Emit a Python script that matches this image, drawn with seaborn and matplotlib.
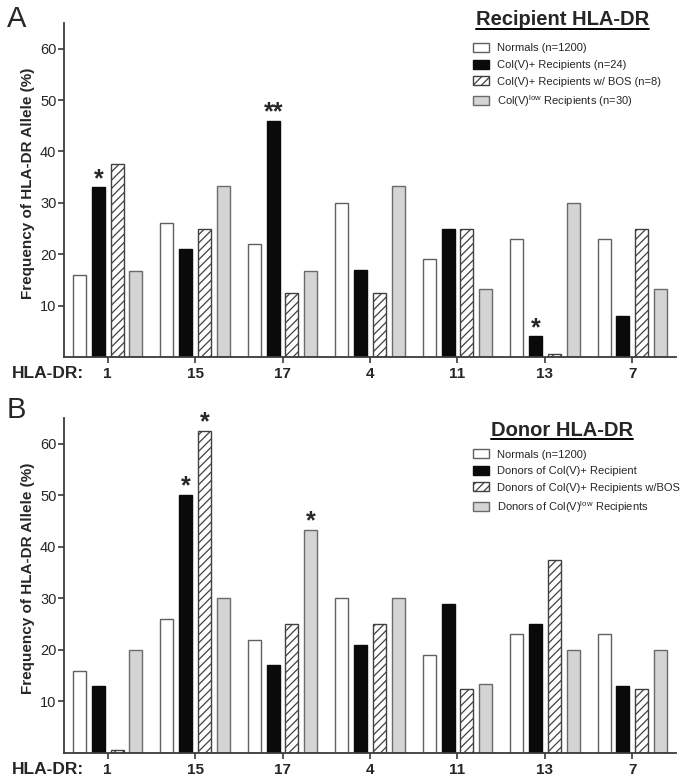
import pandas as pd
import seaborn as sns
from matplotlib import pyplot as plt
from matplotlib.lines import Line2D

sns.set_theme(style="ticks")
plt.rcParams["font.family"] = ["Liberation Sans", "DejaVu Sans"]
plt.rcParams["mathtext.fontset"] = "custom"
plt.rcParams["mathtext.rm"] = "Liberation Sans"
plt.rcParams["hatch.linewidth"] = 0.9

ALLELES = ["1", "15", "17", "4", "11", "13", "7"]

# Panel A - recipients
recip_names = [
    "Normals (n=1200)",
    "Col(V)+ Recipients (n=24)",
    "Col(V)+ Recipients w/ BOS (n=8)",
    r"Col(V)$^{\mathrm{low}}$ Recipients (n=30)",
]
recip_normals = [16, 26, 22, 30, 19, 23, 23]
recip_colv = [33, 21, 46, 17, 25, 4, 8]
recip_bos = [37.5, 25, 12.5, 12.5, 25, 0.5, 25]
recip_low = [16.7, 33.3, 16.7, 33.3, 13.3, 30, 13.3]
recip_stars = [(0, 1, "*"), (2, 1, "**"), (5, 1, "*")]

# Panel B - donors
donor_names = [
    "Normals (n=1200)",
    "Donors of Col(V)+ Recipient",
    "Donors of Col(V)+ Recipients w/BOS",
    r"Donors of Col(V)$^{\mathrm{low}}$ Recipients",
]
donor_normals = [16, 26, 22, 30, 19, 23, 23]
donor_colv = [13, 50, 17, 21, 29, 25, 13]
donor_bos = [0.5, 62.5, 25, 25, 12.5, 37.5, 12.5]
donor_low = [20, 30, 43.3, 30, 13.3, 20, 20]
donor_stars = [(1, 1, "*"), (1, 2, "*"), (2, 3, "*")]

FILLS = ["white", "#0a0a0a", "white", "#d4d4d4"]
EDGES = ["#606060", "#0a0a0a", "#404040", "#6a6a6a"]
HATCHES = [None, None, "////", None]
AXIS_COLOR = "#3a3a3a"


def build_frame(names, series):
    rows = []
    for name, vals in zip(names, series):
        for allele, v in zip(ALLELES, vals):
            rows.append({"allele": allele, "group": name, "freq": v})
    return pd.DataFrame(rows)


def panel(fig, ax, names, series, stars, title, title_y, legend_y):
    df = build_frame(names, series)
    sns.barplot(
        data=df, x="allele", y="freq", hue="group", order=ALLELES, hue_order=names,
        palette=dict(zip(names, FILLS)), saturation=1, width=0.86, gap=0.31,
        errorbar=None, legend=False, ax=ax,
    )
    for cont, edge, hatch in zip(ax.containers, EDGES, HATCHES):
        for p in cont.patches:
            p.set_edgecolor(edge)
            p.set_linewidth(1.0)
            if hatch:
                p.set_hatch(hatch)

    for g, s, label in stars:
        p = ax.containers[s].patches[g]
        ax.text(p.get_x() + p.get_width() / 2, p.get_height() + 0.3, label,
                ha="center", va="baseline", fontsize=18, fontweight="bold")

    ax.set_xlim(-0.5, 6.5)
    ax.set_ylim(0, 65)
    ax.set_yticks([10, 20, 30, 40, 50, 60])
    ax.set_xlabel("")
    ax.set_ylabel("Frequency of HLA-DR Allele (%)", fontweight="bold", fontsize=11)
    ax.yaxis.set_label_coords(-0.048, 0.52)
    sns.despine(ax=ax)
    for side in ("left", "bottom"):
        ax.spines[side].set_color(AXIS_COLOR)
        ax.spines[side].set_linewidth(1.3)
    ax.tick_params(axis="y", labelsize=10.5, length=4, width=1.2, color=AXIS_COLOR, pad=1.5)
    ax.tick_params(axis="x", labelsize=11, length=4, width=1.2, color=AXIS_COLOR, pad=3)
    for lbl in ax.get_xticklabels():
        lbl.set_fontweight("bold")

    ax.annotate("HLA-DR:", xy=(12 / 683, 0), xycoords=("figure fraction", "axes fraction"),
                xytext=(0, -6.5), textcoords="offset points", va="top", ha="left",
                fontsize=12.5, fontweight="bold")

    ax.legend(ax.containers, names, loc="upper left", bbox_to_anchor=(0.668, legend_y),
              frameon=False, fontsize=8, handlelength=1.45, handleheight=0.9,
              handletextpad=0.7, labelspacing=0.55, borderpad=0, borderaxespad=0)

    t = ax.text(0.814, title_y, title, transform=ax.transAxes, ha="center", va="center",
                fontsize=14.5, fontweight="bold")
    return t


fig = plt.figure(figsize=(6.83, 7.80), dpi=100)
ax_a = fig.add_axes([64 / 683, 1 - 357 / 780, 612 / 683, 334 / 780])
ax_b = fig.add_axes([64 / 683, 1 - 753 / 780, 612 / 683, 335 / 780])

t_a = panel(fig, ax_a, recip_names, [recip_normals, recip_colv, recip_bos, recip_low],
            recip_stars, "Recipient HLA-DR", 1.009, 0.940)
t_b = panel(fig, ax_b, donor_names, [donor_normals, donor_colv, donor_bos, donor_low],
            donor_stars, "Donor HLA-DR", 0.964, 0.907)

fig.text(7 / 683, 1 - 5 / 780, "A", va="top", ha="left", fontsize=21)
fig.text(7 / 683, 1 - 396 / 780, "B", va="top", ha="left", fontsize=21)

# underline the panel titles
fig.canvas.draw()
renderer = fig.canvas.get_renderer()
for t in (t_a, t_b):
    bb = t.get_window_extent(renderer).transformed(fig.transFigure.inverted())
    fig.add_artist(Line2D([bb.x0, bb.x1], [bb.y0 + 0.001, bb.y0 + 0.001],
                          transform=fig.transFigure, color="black", lw=1.4))

fig.savefig("out.png", dpi=100)
